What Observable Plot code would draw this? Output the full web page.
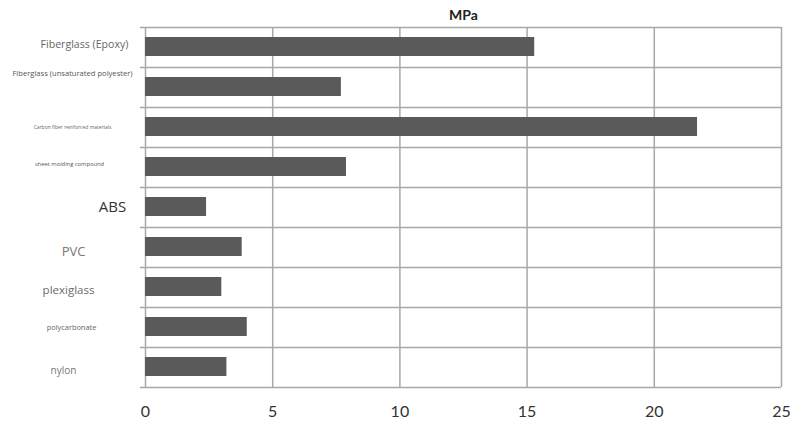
<!DOCTYPE html>
<html>
<head>
<meta charset="utf-8">
<script src="https://cdn.jsdelivr.net/npm/d3@7"></script>
<script src="https://cdn.jsdelivr.net/npm/@observablehq/plot@0.6"></script>
<style>
  html, body { margin: 0; padding: 0; background: #fff; }
  #chart svg { display: block; }
</style>
</head>
<body>
<div id="chart"></div>
<script>
// Data
const materials = [
  "Fiberglass (Epoxy)",
  "Fiberglass (unsaturated polyester)",
  "Carbon fiber reinforced materials",
  "sheet molding compound",
  "ABS",
  "PVC",
  "plexiglass",
  "polycarbonate",
  "nylon"
];
const mpa = [15.3, 7.7, 21.7, 7.9, 2.4, 3.8, 3.0, 4.0, 3.2];
const xTicks = [0, 5, 10, 15, 20, 25];
const title = "MPa";

const data = materials.map((m, i) => ({material: m, value: mpa[i]}));

// Label styling (per-category look from the reference)
const labelStyle = {
  "Fiberglass (Epoxy)":                 {size: 10.6,dx: -61, dy: -3,  color: "#666", weight: 400},
  "Fiberglass (unsaturated polyester)": {size: 7.6, dx: -73, dy: -14, color: "#555", weight: 400},
  "Carbon fiber reinforced materials":  {size: 5,   dx: -73, dy: 0,   color: "#666", weight: 400},
  "sheet molding compound":             {size: 5.8, dx: -76, dy: -3,  color: "#555", weight: 400},
  "ABS":                                {size: 15,  dx: -33, dy: 0,   color: "#333", weight: 500},
  "PVC":                                {size: 13,  dx: -72, dy: 4,   color: "#777", weight: 400},
  "plexiglass":                         {size: 11.5,dx: -77, dy: 3,   color: "#6a6a6a", weight: 500},
  "polycarbonate":                      {size: 7.4, dx: -74, dy: 0,   color: "#666", weight: 400},
  "nylon":                              {size: 10,  dx: -82, dy: 3,   color: "#777", weight: 400}
};

const gridColor = "#a8a8a8";

const labelMarks = materials.map(m => {
  const s = labelStyle[m];
  return Plot.text([m], {
    x: 0, y: d => d, text: d => d,
    dx: s.dx, dy: s.dy, textAnchor: "middle",
    fontSize: s.size, fill: s.color, fontWeight: s.weight
  });
});

const chart = Plot.plot({
  width: 800,
  height: 423,
  marginLeft: 145,
  marginRight: 19,
  marginTop: 27,
  marginBottom: 36,
  style: {fontFamily: "'Open Sans', sans-serif", background: "#fff"},
  x: {domain: [0, 25], ticks: xTicks, label: null},
  y: {domain: materials, padding: 0, label: null, axis: null},
  marks: [
    // vertical grid lines
    Plot.ruleX(xTicks, {stroke: gridColor, strokeWidth: 1.5}),
    // horizontal band separators (top edge of each band) extending slightly left
    Plot.ruleY(materials, {y: d => d, dy: -20, x1: 0, x2: 25, insetLeft: -5, stroke: gridColor, strokeWidth: 1.5}),
    Plot.ruleY([materials[materials.length - 1]], {y: d => d, dy: 20, x1: 0, x2: 25, insetLeft: -5, stroke: gridColor, strokeWidth: 1.5}),
    // bars
    Plot.barX(data, {x: "value", y: "material", fill: "#5a5a5a", insetTop: 10, insetBottom: 11}),
    // x axis labels
    Plot.axisX({ticks: xTicks, tickSize: 0, tickPadding: 18, fontSize: 16, fill: "#333", label: null, fontFamily: "Lato, sans-serif"}),
    // title
    Plot.text([title], {frameAnchor: "top", dy: -17, dx: 0, text: d => d, fontSize: 14, fontWeight: "bold", fill: "#222", fontFamily: "Lato, sans-serif"}),
    ...labelMarks
  ]
});

document.getElementById("chart").appendChild(chart);
</script>
</body>
</html>
